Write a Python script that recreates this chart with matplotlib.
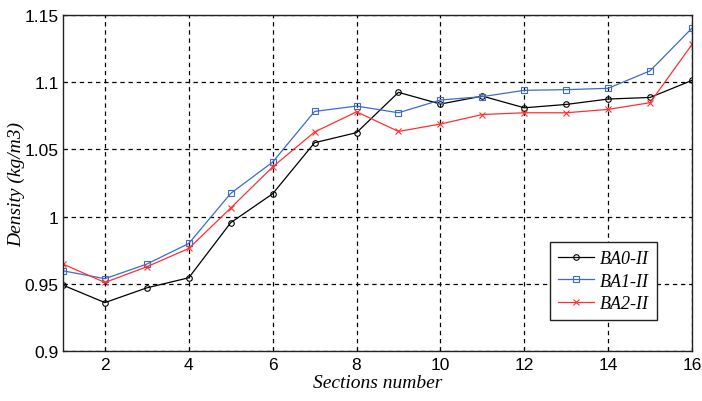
import matplotlib
matplotlib.use("Agg")
import matplotlib.pyplot as plt

# section numbers and densities
sections = list(range(1, 17))
ba0 = [0.949, 0.936, 0.947, 0.9545, 0.9955, 1.017, 1.055, 1.0625,
       1.0925, 1.0838, 1.0897, 1.081, 1.0835, 1.0875, 1.0887, 1.1014]
ba1 = [0.9597, 0.9538, 0.9647, 0.980, 1.0173, 1.0406, 1.0783, 1.0823,
       1.0773, 1.0868, 1.0893, 1.094, 1.0945, 1.0955, 1.1085, 1.1403]
ba2 = [0.9647, 0.951, 0.9627, 0.9763, 1.0064, 1.037, 1.063, 1.078,
       1.0634, 1.0689, 1.076, 1.0773, 1.0773, 1.0798, 1.0848, 1.1282]
labels = ['BA0-II', 'BA1-II', 'BA2-II']

xticks = [2, 4, 6, 8, 10, 12, 14, 16]
yticks = [0.9, 0.95, 1.0, 1.05, 1.1, 1.15]
yticklabels = ['0.9', '0.95', '1', '1.05', '1.1', '1.15']

tick_font = ['Liberation Sans Narrow', 'Liberation Sans', 'DejaVu Sans']
serif_font = ['Liberation Serif', 'DejaVu Serif']

fig = plt.figure(figsize=(7.02, 4.02), dpi=100)
ax = fig.add_axes([0.0897, 0.1244, 0.8961, 0.8356])

ax.plot(sections, ba0, color='black', marker='o', markersize=4, markerfacecolor='none',
        markeredgewidth=0.8, linewidth=0.9, label=labels[0])
ax.plot(sections, ba1, color='#3d6cc6', marker='s', markersize=4, markerfacecolor='none',
        markeredgewidth=0.8, linewidth=0.9, label=labels[1])
ax.plot(sections, ba2, color='#ff3030', marker='x', markersize=4,
        markeredgewidth=0.8, linewidth=0.9, label=labels[2])

ax.set_xlim(1, 16)
ax.set_ylim(0.9, 1.15)
ax.set_xticks(xticks)
ax.set_yticks(yticks)
ax.set_yticklabels(yticklabels)
ax.tick_params(direction='in', length=3, width=0.8, labelsize=12.5, pad=4)
ax.tick_params(axis='y', pad=3)
for lab in ax.get_xticklabels() + ax.get_yticklabels():
    lab.set_family(tick_font)

ax.grid(True, color='black', linestyle=(0, (3.5, 3)), linewidth=0.9)
for sp in ax.spines.values():
    sp.set_linewidth(1.0)
    sp.set_color('#222222')

ax.set_xlabel('Sections number', family=serif_font, style='italic', fontsize=14, labelpad=2)
ax.set_ylabel('Density (kg/m3)', family=serif_font, style='italic', fontsize=14)
ax.yaxis.set_label_coords(-0.06, 0.5)

leg = ax.legend(loc='lower right', bbox_to_anchor=(0.944, 0.092), fancybox=False,
                framealpha=1, edgecolor='#222222', handlelength=2.0, handletextpad=0.3,
                borderpad=0.45, labelspacing=0.3, borderaxespad=0,
                prop={'family': serif_font, 'style': 'italic', 'size': 13})
leg.get_frame().set_linewidth(1.0)

fig.savefig('out.png', dpi=100)
